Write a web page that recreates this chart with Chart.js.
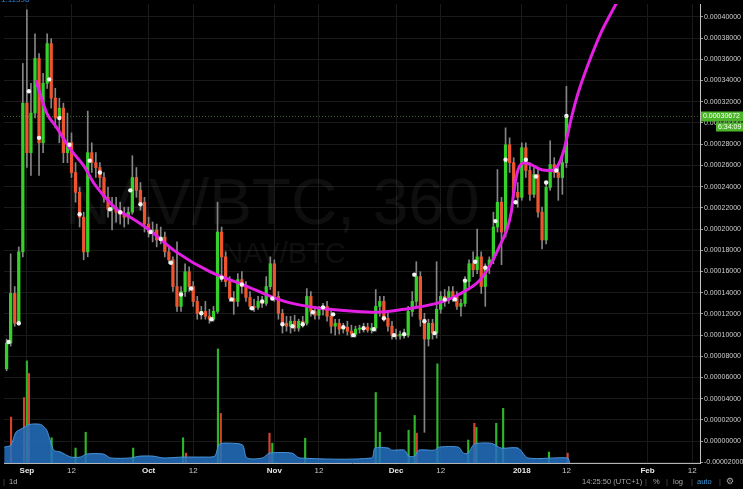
<!DOCTYPE html>
<html>
<head>
<meta charset="utf-8">
<title>NAV/BTC, 360</title>
<script src="https://cdn.jsdelivr.net/npm/chart.js@4.4.1/dist/chart.umd.min.js"></script>
<style>
  html, body { margin: 0; padding: 0; background: #000; }
  #wrap { position: relative; width: 743px; height: 489px; background: #000; }
  canvas { display: block; }
</style>
</head>
<body>
<div id="wrap"><canvas id="chart" width="743" height="489"></canvas></div>
<script>
'use strict';

////////////////////////////
/// data - prices in satoshi (1e-8 BTC), x = days since 1 Sep 2017
const firstDay = -5;

const opens = [
  6820, 9250, 13930, 11120, 17850, 31870, 27200, 30940, 36080, 28130,
  33740, 37480, 32340, 30470, 31400, 27200, 28130, 25330, 23460, 21120,
  17850, 27200, 26260, 25800, 24860, 22990, 21870, 22060, 21590, 21400,
  21120, 21590, 24860, 23650, 22530, 20470, 19720, 19910, 18970, 19250,
  17850, 17100, 14580, 12710, 14110, 15980, 14580, 13180, 12060, 12240,
  11780, 11500, 12240, 19720, 17380, 15050, 13460, 13180, 15240, 14580,
  13550, 12710, 12620, 13180, 12990, 14580, 16730, 13650, 12060, 11120,
  10840, 11310, 10660, 11310, 11120, 13650, 12240, 11870, 12430, 12710,
  11780, 10840, 11120, 10560, 10750, 10370, 10090, 10560, 10660, 10750,
  10470, 10660, 12710, 13180, 11590, 10840, 10000, 9910, 10090, 10000,
  12240, 13180, 15520, 11500, 9630, 11120, 10190, 12430, 13650, 13370,
  14110, 13650, 12710, 12990, 15050, 16730, 16170, 17380, 14580, 16450,
  17100, 20190, 22530, 19720, 27950, 26260, 23460, 22990, 27670, 25520,
  23270, 25140, 21590, 18970, 23930, 26080, 25330, 24860, 26260,
];
const highs = [
  9630, 17660, 14580, 18320, 35610, 40660, 33740, 38410, 36540, 34680,
  38410, 37950, 33270, 32340, 31870, 30940, 29070, 26260, 23930, 21590,
  31120, 28130, 27200, 26260, 25330, 23930, 22990, 22990, 22530, 22060,
  22060, 26920, 25800, 24390, 22990, 21120, 20660, 20470, 20190, 19720,
  18320, 17380, 18790, 14580, 16730, 16450, 15050, 13650, 12710, 13180,
  12430, 12710, 22530, 20190, 17850, 15520, 14110, 15800, 15980, 15050,
  14110, 13370, 13650, 13650, 15520, 17380, 17100, 14110, 12430, 11780,
  11780, 11870, 11500, 11780, 14390, 14110, 12710, 12710, 12990, 13180,
  12240, 11500, 11500, 11120, 11310, 10940, 10840, 10940, 11120, 11120,
  11120, 14300, 13650, 13650, 12060, 11310, 10560, 10370, 10560, 12710,
  14110, 16920, 15980, 12060, 11500, 11500, 16920, 14110, 14300, 14580,
  14580, 14110, 13370, 15520, 17100, 17850, 20000, 17850, 16730, 17380,
  21590, 25610, 22990, 29540, 28600, 26730, 24390, 28130, 28130, 26260,
  25800, 25800, 22060, 24210, 28320, 26730, 25980, 26730, 33460,
];
const lows = [
  6640, 8970, 10840, 10940, 17380, 25800, 25050, 30470, 25050, 27200,
  33270, 31400, 29540, 28130, 26260, 26260, 24860, 22530, 20190, 17100,
  17380, 25330, 24860, 23930, 22530, 21120, 19910, 20660, 20470, 20190,
  20470, 21400, 22990, 21780, 19720, 19250, 18790, 18320, 18600, 17380,
  16730, 14110, 12240, 12240, 13650, 14110, 12710, 11500, 11500, 11500,
  11120, 11310, 12060, 15050, 14580, 13180, 11960, 12710, 13930, 13180,
  12430, 12240, 12430, 12620, 12800, 14300, 13180, 11500, 10190, 10370,
  10190, 10370, 10370, 10750, 10940, 11780, 11500, 11500, 11870, 11310,
  10190, 10000, 10090, 10190, 10000, 9810, 9810, 10190, 10280, 10280,
  10190, 10370, 11780, 11310, 10370, 9630, 9630, 9630, 9720, 9810,
  11780, 12710, 10840, 840, 8970, 9630, 9720, 12060, 12710, 12990,
  13180, 12430, 11780, 12710, 14580, 15520, 15800, 13930, 12710, 15800,
  16730, 19720, 16640, 19250, 25330, 22990, 22060, 22710, 24860, 22710,
  22990, 21120, 18130, 18600, 23650, 24860, 22710, 23270, 25800,
];
const closes = [
  9250, 13930, 11120, 17850, 31870, 27200, 30940, 36080, 28130, 33740,
  37480, 32340, 30470, 31400, 27200, 28130, 25330, 23460, 21120, 17850,
  27200, 26260, 25800, 24860, 22990, 21870, 22060, 21590, 21400, 21120,
  21590, 24860, 23650, 22530, 20470, 19720, 19910, 18970, 19250, 17850,
  17100, 14580, 12710, 14110, 15980, 14580, 13180, 12060, 12240, 11780,
  11500, 12240, 19720, 17380, 15050, 13460, 13180, 15240, 14580, 13550,
  12710, 12620, 13180, 12990, 14580, 16730, 13650, 12060, 11120, 10840,
  11310, 10660, 11310, 11120, 13650, 12240, 11870, 12430, 12710, 11780,
  10840, 11120, 10560, 10750, 10370, 10090, 10560, 10660, 10750, 10470,
  10660, 12710, 13180, 11590, 10840, 10000, 9910, 10090, 10000, 12240,
  13180, 15520, 11500, 9630, 11120, 10190, 12430, 13650, 13370, 14110,
  13650, 12710, 12990, 15050, 16730, 16170, 17380, 14580, 16450, 17100,
  20190, 22530, 19720, 27950, 26260, 23460, 22990, 27670, 25520, 23270,
  25140, 21590, 18970, 23930, 26080, 25330, 24860, 26260, 30672,
];

/// white marker dots
const dotDays = [
  -4.5, -2, 0.5, 3, 5.5, 8, 10.5, 13, 15.5, 18, 20.5, 23, 25.5, 28,
  30.5, 33, 35.5, 38, 40.5, 43, 45.5, 48, 50.5, 53, 55.5, 58, 60.5, 63,
  65.5, 68, 70.5, 73, 75.5, 78, 80.5, 83, 85.5, 88, 90.5, 93, 95.5, 98,
  100.5, 103, 105.5, 108, 110.5, 113, 115.5, 118, 120.5, 123, 125.5, 128, 130.5, 133,
];
const dotValues = [
  9350, 11120, 32990, 28600, 34110, 30470, 27950, 21400, 26450, 25330, 21870, 21590, 23650, 22340,
  19720, 19070, 16820, 13830, 14390, 12060, 11500, 15420, 13370, 14770, 12530, 13180, 13460, 11030,
  10840, 11030, 12150, 12620, 11960, 10750, 10000, 10660, 10560, 11590, 10000, 10090, 15700, 11310,
  10190, 13370, 13370, 15140, 16920, 16360, 20750, 26540, 22530, 26540, 24960, 24390, 25520, 30670,
];

/// magenta regression curve
const curveDays = [
  2.2, 4.9, 7.4, 10.8, 14.0, 16.4, 18.9, 22.1, 25.5, 29.9, 36.8, 45.1, 53.2,
  61.3, 65.4, 72.3, 80.6, 86.3, 92.9, 101.0, 103.9, 107.8, 112.0, 116.2, 119.4,
  120.1, 121.1, 122.6, 124.3, 126.7, 129.2, 130.9, 132.4, 134.1, 135.3, 136.5,
  139.0, 141.4, 143.9, 146.3,
];
const curveValues = [
  34020, 30940, 29540, 27480, 25980, 24390, 23180, 21870, 21120, 20000, 17850, 15980, 14770,
  13460, 12990, 12530, 12240, 12150, 12430, 12990, 13370, 14110, 15330, 18130, 21590,
  23740, 25610, 26260, 26080, 25610, 25520, 25980, 27480, 30280, 32060, 33550,
  36170, 38410, 40280, 41970,
];

/// volume spikes (arbitrary units) and volume average area
const volDays = [
  -3.9, -0.7, 0, 0.5, 6.1, 12, 14.5, 26.2, 38.5, 39.2, 47.1, 47.8, 59.8, 60.5,
  68.6, 86, 87, 94.1, 95.6, 96.1, 101.2, 108.8, 110.3, 110.8, 115.7, 117.4, 128.7, 133.3,
];
const volValues = [
  20, 28.5, 44.5, 39, 11, 6.5, 13.4, 6.5, 11, 4.3, 49.7, 21.6, 13, 8.6,
  10.8, 30.7, 13.4, 14.3, 20.7, 13, 43.2, 10, 17.3, 15.5, 17.3, 23.8, 4.8, 4.3,
];
const volUp = [
  0, 0, 1, 0, 1, 1, 1, 1, 1, 0, 1, 0, 0, 1,
  1, 1, 1, 1, 1, 0, 1, 1, 0, 1, 1, 1, 1, 0,
];
const volMaDays = [
  -5.6, -3.9, -2.7, -0.7, 0.5, 3.4, 4.9, 6.6, 8.3, 10.8, 13.2, 14.7, 18.9, 20.6,
  25.5, 27.9, 31.1, 33.6, 38.5, 43.4, 46.3, 47.5, 50.7, 53.2, 54.2, 58.1, 59.8,
  65.4, 67.2, 85.0, 85.8, 89.2, 89.9, 93.1, 94.1, 95.6, 96.6, 100.5, 101.5,
  106.4, 107.6, 108.8, 110.3, 114.5, 116.9, 121.1, 123.5, 133.3, 133.8,
];
const volMaValues = [
  6.9, 7.8, 13.4, 15.5, 16.8, 16.8, 14.3, 5.6, 4.8, 2.6, 2.6, 3.9, 3.9, 2.2,
  2.2, 3.0, 3.0, 2.2, 2.6, 2.6, 3.0, 8.2, 8.6, 7.8, 2.2, 2.2, 4.3,
  4.3, 2.2, 2.2, 6.5, 6.5, 5.6, 5.6, 3.0, 3.0, 5.6, 5.6, 6.9,
  6.9, 4.3, 4.3, 8.2, 8.6, 6.5, 6.5, 2.2, 2.2, 0,
];

/// axes
const tickDays = [0, 11, 30, 41, 61, 72, 91, 102, 122, 133, 153, 164];
const tickLabels = ['Sep', '12', 'Oct', '12', 'Nov', '12', 'Dec', '12', '2018', '12', 'Feb', '12'];
const tickBold = [true, false, true, false, true, false, true, false, true, false, true, false];
const priceTicks = [
  -2000, 0, 2000, 4000, 6000, 8000, 10000, 12000, 14000, 16000, 18000,
  20000, 22000, 24000, 26000, 28000, 30000, 32000, 34000, 36000, 38000, 40000,
];

/// styles
const FONT = "'Liberation Sans', Arial, sans-serif";
const upColor = '#35d12b';
const downColor = '#ec5530';
const gridColor = '#1a1a1a';
const lastPrice = closes[closes.length - 1];

//////////////////////////////////////////////////////
/// plugins
const watermark = {
  id: 'watermark',
  beforeDatasetsDraw(chart) {
    const { ctx, chartArea: a } = chart;
    ctx.save();
    ctx.beginPath();
    ctx.rect(a.left, a.top, a.right - a.left, a.bottom - a.top);
    ctx.clip();
    ctx.fillStyle = 'rgba(255,255,255,0.055)';
    ctx.textAlign = 'center';
    ctx.font = '64px ' + FONT;
    ctx.fillText('NAV/BTC, 360', 272, 224);
    ctx.font = '29px ' + FONT;
    ctx.fillText('NAV/BTC', 284, 263);
    ctx.restore();
  },
};

const drawText = function (ctx, text, x, y, color, font) {
  ctx.fillStyle = color;
  ctx.font = font || '7.5px ' + FONT;
  ctx.fillText(text, x, y);
};

const overlay = {
  id: 'overlay',
  afterDraw(chart) {
    const { ctx, chartArea: a } = chart;
    const yScale = chart.scales.y;
    const py = Math.round(yScale.getPixelForValue(lastPrice)) + 0.5;

    ctx.save();
    // last price line
    ctx.strokeStyle = 'rgba(120,190,100,0.5)';
    ctx.lineWidth = 1;
    ctx.setLineDash([1, 2]);
    ctx.beginPath();
    ctx.moveTo(a.left, py);
    ctx.lineTo(a.right, py);
    ctx.stroke();
    ctx.setLineDash([]);

    // price label + countdown
    ctx.textBaseline = 'middle';
    ctx.textAlign = 'left';
    ctx.fillStyle = '#4db52a';
    ctx.fillRect(a.right + 1, py - 5, 42, 10);
    drawText(ctx, (lastPrice / 1e8).toFixed(8), a.right + 3, py, '#ffffff', '7px ' + FONT);
    ctx.fillStyle = '#4db52a';
    ctx.fillRect(716, py + 6, 27, 9);
    drawText(ctx, '6:34:09', 718, py + 10.5, '#ffffff', '7px ' + FONT);

    // top-left clipped label
    ctx.textBaseline = 'alphabetic';
    drawText(ctx, '1.11398', 1, 2, '#2f7fd0', '8px ' + FONT);

    // bottom toolbar
    ctx.textBaseline = 'middle';
    const ty = 482;
    drawText(ctx, '|', 3, ty, '#555555');
    drawText(ctx, '1d', 9, ty, '#b0b0b0');
    drawText(ctx, '14:25:50 (UTC+1)', 582, ty, '#a8a8a8');
    drawText(ctx, '|', 645, ty, '#555555');
    drawText(ctx, '%', 653, ty, '#a8a8a8');
    drawText(ctx, '|', 666, ty, '#555555');
    drawText(ctx, 'log', 673, ty, '#a8a8a8');
    drawText(ctx, '|', 691, ty, '#555555');
    drawText(ctx, 'auto', 697, ty, '#3a9be0');
    drawText(ctx, '|', 719, ty, '#555555');
    drawText(ctx, '\u2699', 726, ty, '#a8a8a8', '9px DejaVu Sans');
    ctx.restore();
  },
};

//////////////////////////////////////////////////////
/// datasets
const days = closes.map((c, i) => firstDay + i);

const wickData = days.map((d, i) => ({ x: d, y: [lows[i], highs[i]] }));
const bodyData = days.map((d, i) => ({ x: d, y: [opens[i], closes[i]] }));
const dotData = dotDays.map((d, i) => ({ x: d, y: dotValues[i] }));
const curveData = curveDays.map((d, i) => ({ x: d, y: curveValues[i] }));
const volData = volDays.map((d, i) => ({ x: d, y: volValues[i] }));
const volMaData = volMaDays.map((d, i) => ({ x: d, y: volMaValues[i] }));

Chart.defaults.font.family = FONT;

const chart = new Chart(document.getElementById('chart'), {
  type: 'bar',
  data: {
    datasets: [
      {
        label: 'Volume',
        type: 'bar',
        data: volData,
        yAxisID: 'yv',
        grouped: false,
        barThickness: 1.5,
        backgroundColor: (c) => (volUp[c.dataIndex] ? '#2fb52a' : '#d2452c'),
        order: 7,
      },
      {
        label: 'Volume MA',
        type: 'line',
        data: volMaData,
        yAxisID: 'yv',
        fill: 'origin',
        backgroundColor: 'rgba(36,112,192,0.85)',
        borderColor: 'rgba(74,152,222,0.95)',
        borderWidth: 1,
        pointRadius: 0,
        tension: 0.25,
        order: 6,
      },
      {
        label: 'Wicks',
        type: 'bar',
        data: wickData,
        grouped: false,
        barThickness: 1,
        backgroundColor: '#858585',
        order: 5,
      },
      {
        label: 'NAV/BTC',
        type: 'bar',
        data: bodyData,
        grouped: false,
        barThickness: 2.6,
        minBarLength: 1,
        backgroundColor: (c) =>
          closes[c.dataIndex] >= opens[c.dataIndex] ? upColor : downColor,
        order: 4,
      },
      {
        label: 'Regression',
        type: 'line',
        data: curveData,
        borderColor: '#e21fe2',
        borderWidth: 3,
        pointRadius: 0,
        cubicInterpolationMode: 'monotone',
        fill: false,
        order: 3,
      },
      {
        label: 'Markers',
        type: 'scatter',
        data: dotData,
        showLine: false,
        pointRadius: 2.2,
        pointBackgroundColor: '#f2f2f2',
        pointBorderWidth: 0,
        order: 2,
      },
    ],
  },
  options: {
    responsive: false,
    devicePixelRatio: 1,
    animation: false,
    events: [],
    layout: { padding: 0 },
    plugins: {
      legend: { display: false },
      tooltip: { enabled: false },
    },
    scales: {
      x: {
        type: 'linear',
        min: -5.64,
        max: 165.93,
        bounds: 'data',
        offset: false,
        afterBuildTicks: (s) => {
          s.ticks = tickDays.map((v) => ({ value: v }));
        },
        afterFit: (s) => {
          s.height = 26;
          s.paddingLeft = 0;
          s.paddingRight = 0;
        },
        ticks: {
          autoSkip: false,
          maxRotation: 0,
          padding: 1,
          callback: (v, i) => tickLabels[i],
          color: (c) => (tickBold[c.index] ? '#e8e8e8' : '#c8c8c8'),
          font: (c) => ({ size: 8, weight: tickBold[c.index] ? 'bold' : 'normal' }),
        },
        grid: { color: gridColor, offset: false, tickLength: 2, tickColor: 'rgba(0,0,0,0)' },
        border: { color: '#b4b4b4' },
      },
      y: {
        type: 'linear',
        position: 'right',
        min: -2055,
        max: 41217,
        bounds: 'data',
        afterBuildTicks: (s) => {
          s.ticks = priceTicks.map((v) => ({ value: v }));
        },
        afterFit: (s) => {
          s.width = 43;
          s.paddingTop = 0;
          s.paddingBottom = 0;
        },
        ticks: {
          padding: 1,
          color: '#cfcfcf',
          font: { size: 7 },
          callback: (v) => (v / 1e8).toFixed(8),
        },
        grid: { color: gridColor, tickLength: 3, tickColor: '#9a9a9a' },
        border: { color: '#c4c4c4' },
      },
      yv: {
        type: 'linear',
        display: false,
        min: 0,
        max: 200,
      },
    },
  },
  plugins: [watermark, overlay],
});
</script>
</body>
</html>
